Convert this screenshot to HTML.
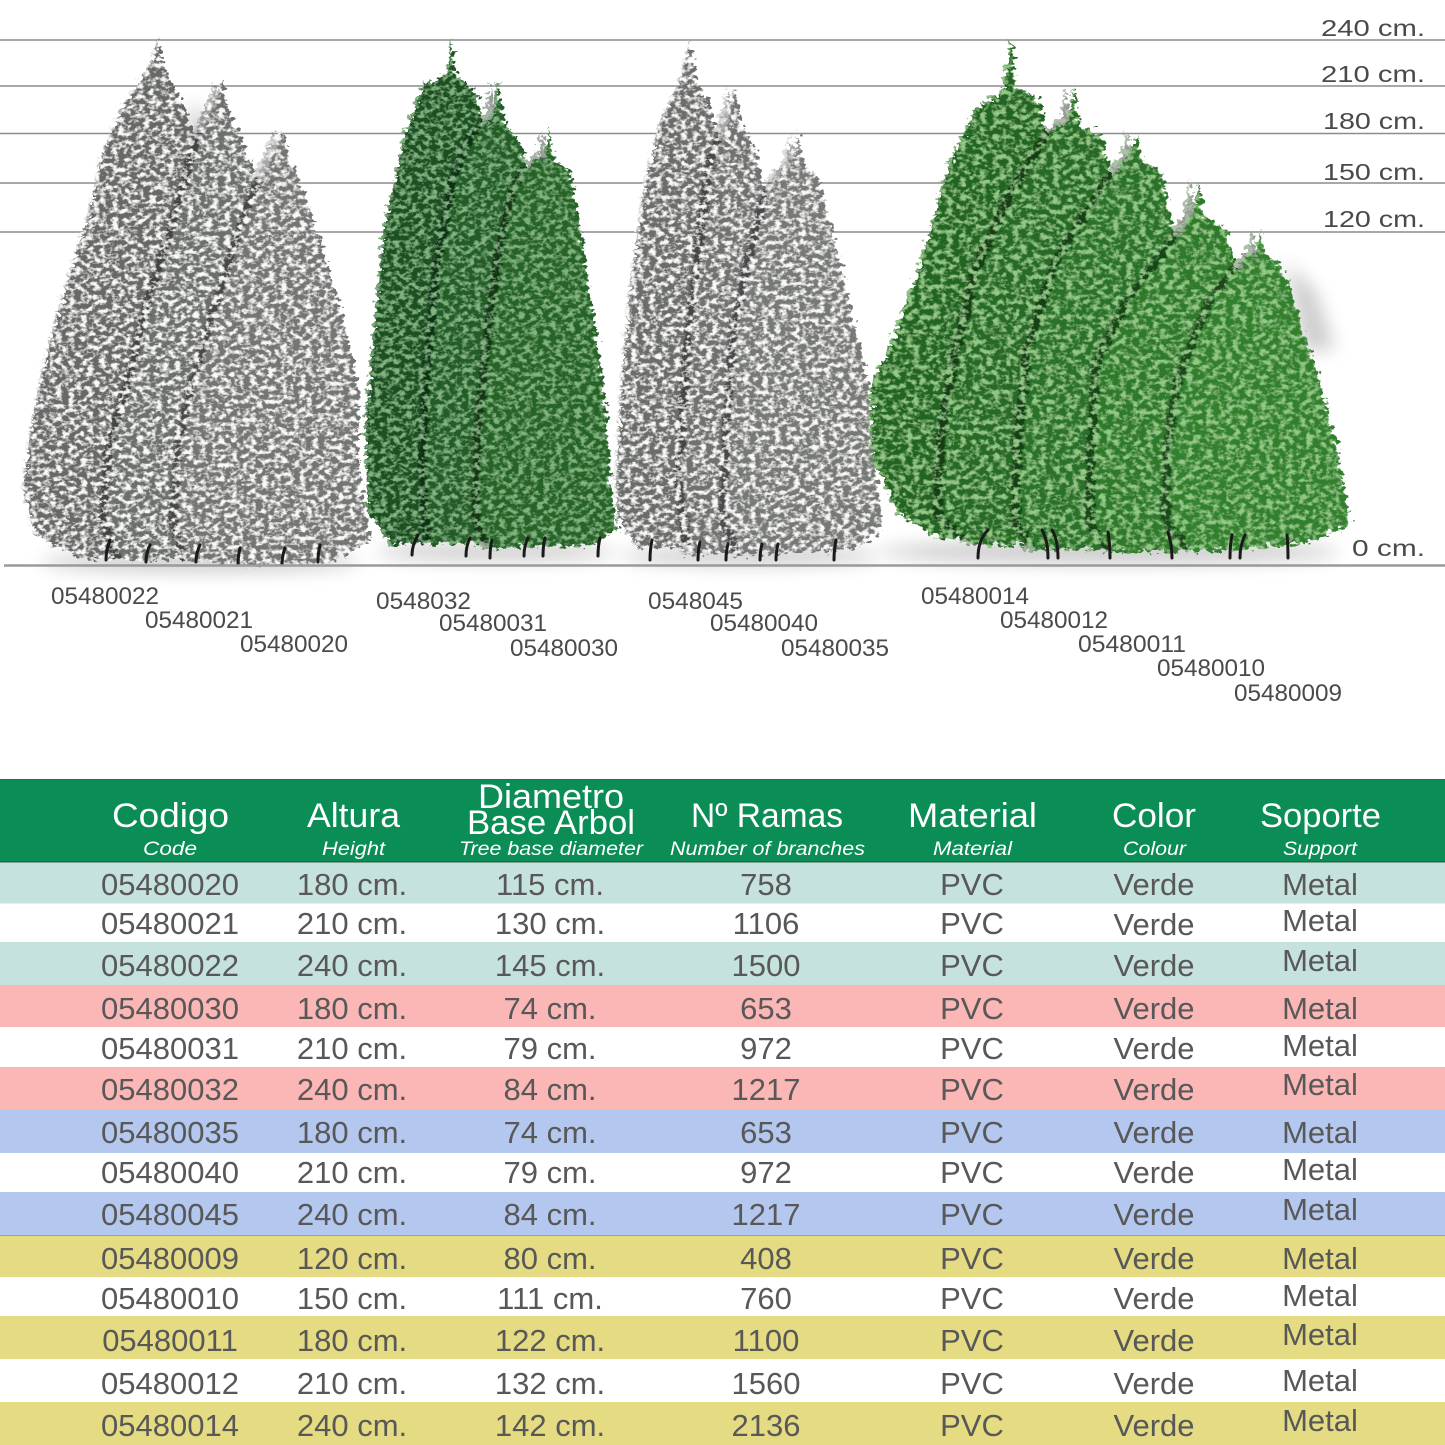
<!DOCTYPE html>
<html>
<head>
<meta charset="utf-8">
<style>
html,body{margin:0;padding:0;background:#fff;}
body{width:1445px;height:1445px;overflow:hidden;}
svg{display:block;}
.lbl{font-family:"Liberation Sans",sans-serif;fill:#4a4a4a;}
.hd{font-family:"Liberation Sans",sans-serif;fill:#ffffff;}
.hs{font-family:"Liberation Sans",sans-serif;fill:#ffffff;font-style:italic;}
.td{font-family:"Liberation Sans",sans-serif;fill:#585858;font-size:31px;text-anchor:middle;}
</style>
</head>
<body>
<svg width="1445" height="1445" viewBox="0 0 1445 1445" xmlns="http://www.w3.org/2000/svg">
<defs>
  <filter id="flock" x="-10%" y="-10%" width="120%" height="120%">
    <feTurbulence type="fractalNoise" baseFrequency="0.16 0.22" numOctaves="3" seed="4" result="noise"/>
    <feDisplacementMap in="SourceGraphic" in2="noise" scale="16" xChannelSelector="R" yChannelSelector="G" result="disp"/>
    <feColorMatrix in="noise" type="matrix" values="0 0 0 0 0.95  0 0 0 0 0.95  0 0 0 0 0.94  4 0 0 0 -1.78" result="spk"/>
    <feComposite in="spk" in2="disp" operator="in" result="spk2"/>
    <feMerge><feMergeNode in="disp"/><feMergeNode in="spk2"/></feMerge>
  </filter>
  <filter id="green1" x="-10%" y="-10%" width="120%" height="120%">
    <feTurbulence type="fractalNoise" baseFrequency="0.16 0.22" numOctaves="3" seed="9" result="noise"/>
    <feDisplacementMap in="SourceGraphic" in2="noise" scale="14" xChannelSelector="R" yChannelSelector="G" result="disp"/>
    <feColorMatrix in="noise" type="matrix" values="0 0 0 0 0.22  0 0 0 0 0.46  0 0 0 0 0.22  4 0 0 0 -1.8" result="spk"/>
    <feComposite in="spk" in2="disp" operator="in" result="spk2"/>
    <feMerge><feMergeNode in="disp"/><feMergeNode in="spk2"/></feMerge>
  </filter>
  <filter id="green2" x="-10%" y="-10%" width="120%" height="120%">
    <feTurbulence type="fractalNoise" baseFrequency="0.15 0.2" numOctaves="3" seed="13" result="noise"/>
    <feDisplacementMap in="SourceGraphic" in2="noise" scale="16" xChannelSelector="R" yChannelSelector="G" result="disp"/>
    <feColorMatrix in="noise" type="matrix" values="0 0 0 0 0.29  0 0 0 0 0.58  0 0 0 0 0.24  4 0 0 0 -1.8" result="spk"/>
    <feComposite in="spk" in2="disp" operator="in" result="spk2"/>
    <feMerge><feMergeNode in="disp"/><feMergeNode in="spk2"/></feMerge>
  </filter>
  <filter id="blur" x="-30%" y="-30%" width="160%" height="160%"><feGaussianBlur stdDeviation="9"/></filter>
</defs>

<rect x="0" y="0" width="1445" height="1445" fill="#ffffff"/>

<!-- height guide lines -->
<g stroke="#8c8c8c" stroke-width="1.6">
  <line x1="0" y1="40" x2="1445" y2="40"/>
  <line x1="0" y1="86" x2="1445" y2="86"/>
  <line x1="0" y1="133.5" x2="1445" y2="133.5"/>
  <line x1="0" y1="183" x2="1445" y2="183"/>
  <line x1="0" y1="232" x2="1445" y2="232"/>
</g>

<g class="lbl" font-size="23">
  <text x="1321" y="36" textLength="104" lengthAdjust="spacingAndGlyphs">240 cm.</text>
  <text x="1321" y="82" textLength="104" lengthAdjust="spacingAndGlyphs">210 cm.</text>
  <text x="1323" y="129" textLength="102" lengthAdjust="spacingAndGlyphs">180 cm.</text>
  <text x="1323" y="180" textLength="102" lengthAdjust="spacingAndGlyphs">150 cm.</text>
  <text x="1323" y="227" textLength="102" lengthAdjust="spacingAndGlyphs">120 cm.</text>
  <text x="1352" y="556" textLength="73" lengthAdjust="spacingAndGlyphs">0 cm.</text>
</g>

<!-- soft shadows -->
<g fill="#000" opacity="0.2" filter="url(#blur)">
  <path d="M190,100 L215,130 L215,200 L190,200 Z"/>
  <ellipse cx="200" cy="562" rx="160" ry="10"/>
  <ellipse cx="495" cy="552" rx="120" ry="9"/>
  <ellipse cx="750" cy="556" rx="130" ry="9"/>
  <ellipse cx="1110" cy="552" rx="230" ry="12"/>
  <path d="M1285,262 L1315,290 L1335,350 L1305,350 Z"/>
</g>

<!-- Group 1: flocked -->
<g filter="url(#flock)">
  <path fill="#666966" d="M158,38 L162,60 L175,90 L190,120 L200,160 L200,560 L80,558 L35,535 L22,490 L30,430 L42,370 L55,320 L70,270 L88,215 L100,160 L120,110 L140,80 L152,60 Z"/>
  <path fill="#000" opacity="0.35" transform="translate(-8,0)" d="M222,82 L228,110 L245,150 L262,195 L270,250 L280,560 L120,560 L105,520 L110,450 L130,380 L150,300 L175,220 L195,150 L210,110 Z"/>
  <path fill="#6c6f6c" d="M222,82 L228,110 L245,150 L262,195 L270,250 L280,560 L120,560 L105,520 L110,450 L130,380 L150,300 L175,220 L195,150 L210,110 Z"/>
  <path fill="#000" opacity="0.35" transform="translate(-8,0)" d="M282,130 L290,160 L305,195 L322,250 L343,316 L358,387 L357,459 L370,540 L330,562 L250,565 L185,560 L175,520 L180,440 L200,360 L225,280 L248,210 L265,170 Z"/>
  <path fill="#737673" d="M282,130 L290,160 L305,195 L322,250 L343,316 L358,387 L357,459 L370,540 L330,562 L250,565 L185,560 L175,520 L180,440 L200,360 L225,280 L248,210 L265,170 Z"/>
</g>

<!-- Group 2: dark green -->
<g filter="url(#green1)">
  <path fill="#1c5021" d="M451,38 L456,75 L478,95 L485,140 L480,540 L392,545 L367,512 L365,423 L375,316 L384,226 L404,137 L424,84 L447,75 Z"/>
  <path fill="#000" opacity="0.4" transform="translate(-8,0)" d="M498,82 L504,120 L522,148 L535,200 L540,540 L430,545 L424,470 L428,380 L440,260 L455,180 L473,134 L493,115 Z"/>
  <path fill="#215b25" d="M498,82 L504,120 L522,148 L535,200 L540,540 L430,545 L424,470 L428,380 L440,260 L455,180 L473,134 L493,115 Z"/>
  <path fill="#000" opacity="0.4" transform="translate(-8,0)" d="M549,128 L555,160 L571,173 L588,280 L604,387 L612,494 L618,530 L590,545 L490,548 L478,523 L480,430 L490,330 L502,244 L515,190 L527,166 L545,155 Z"/>
  <path fill="#256428" d="M549,128 L555,160 L571,173 L588,280 L604,387 L612,494 L618,530 L590,545 L490,548 L478,523 L480,430 L490,330 L502,244 L515,190 L527,166 L545,155 Z"/>
</g>

<!-- Group 3: flocked -->
<g filter="url(#flock)">
  <path fill="#6a6d6a" d="M690,42 L695,80 L712,110 L720,160 L720,540 L640,550 L617,520 L615,494 L620,387 L630,280 L645,180 L660,120 L678,85 Z"/>
  <path fill="#000" opacity="0.35" transform="translate(-8,0)" d="M735,88 L740,120 L755,150 L765,200 L770,550 L690,555 L680,480 L688,360 L700,250 L710,170 L725,125 Z"/>
  <path fill="#6f726f" d="M735,88 L740,120 L755,150 L765,200 L770,550 L690,555 L680,480 L688,360 L700,250 L710,170 L725,125 Z"/>
  <path fill="#000" opacity="0.35" transform="translate(-8,0)" d="M798,133 L803,165 L819,180 L844,280 L869,387 L879,494 L882,530 L850,550 L740,555 L725,520 L728,430 L735,330 L750,260 L765,200 L779,173 L792,160 Z"/>
  <path fill="#767976" d="M798,133 L803,165 L819,180 L844,280 L869,387 L879,494 L882,530 L850,550 L740,555 L725,520 L728,430 L735,330 L750,260 L765,200 L779,173 L792,160 Z"/>
</g>

<!-- Group 4: bright green -->
<g filter="url(#green2)">
  <path fill="#246524" d="M1011,38 L1016,85 L1040,101 L1050,160 L1060,540 L940,538 L899,515 L872,460 L870,387 L890,345 L920,265 L948,166 L975,110 L1003,90 Z"/>
  <path fill="#000" opacity="0.4" transform="translate(-9,0)" d="M1074,86 L1080,125 L1102,134 L1115,200 L1120,545 L975,545 L940,515 L943,440 L958,350 L978,270 L1010,200 L1048,134 L1068,120 Z"/>
  <path fill="#286b27" d="M1074,86 L1080,125 L1102,134 L1115,200 L1120,545 L975,545 L940,515 L943,440 L958,350 L978,270 L1010,200 L1048,134 L1068,120 Z"/>
  <path fill="#000" opacity="0.4" transform="translate(-9,0)" d="M1136,132 L1142,160 L1162,173 L1175,240 L1180,548 L1035,550 L1018,520 L1020,440 L1030,350 L1058,260 L1090,210 L1117,169 L1130,155 Z"/>
  <path fill="#2b722a" d="M1136,132 L1142,160 L1162,173 L1175,240 L1180,548 L1035,550 L1018,520 L1020,440 L1030,350 L1058,260 L1090,210 L1117,169 L1130,155 Z"/>
  <path fill="#000" opacity="0.4" transform="translate(-9,0)" d="M1199,182 L1204,215 L1227,230 L1240,290 L1250,550 L1110,552 L1092,520 L1094,440 L1100,360 L1130,300 L1172,244 L1192,215 Z"/>
  <path fill="#2e792c" d="M1199,182 L1204,215 L1227,230 L1240,290 L1250,550 L1110,552 L1092,520 L1094,440 L1100,360 L1130,300 L1172,244 L1192,215 Z"/>
  <path fill="#000" opacity="0.4" transform="translate(-9,0)" d="M1261,230 L1266,255 L1282,266 L1311,351 L1336,441 L1346,500 L1350,525 L1300,545 L1190,550 L1168,520 L1170,450 L1180,380 L1212,301 L1242,262 L1256,250 Z"/>
  <path fill="#32802f" d="M1261,230 L1266,255 L1282,266 L1311,351 L1336,441 L1346,500 L1350,525 L1300,545 L1190,550 L1168,520 L1170,450 L1180,380 L1212,301 L1242,262 L1256,250 Z"/>
</g>

<!-- tree stands -->
<g stroke="#1a1a1a" stroke-width="3" fill="none" stroke-linecap="round">
  <path d="M110,540 Q106,550 106,560"/><path d="M150,545 Q146,553 146,562"/><path d="M200,545 Q196,553 196,562"/><path d="M240,548 Q238,556 238,565"/><path d="M285,548 Q282,556 282,565"/><path d="M320,545 Q318,553 318,562"/>
  <path d="M418,535 Q412,545 412,555"/><path d="M470,538 Q466,546 466,556"/><path d="M492,540 Q490,548 490,558"/><path d="M528,538 Q524,546 524,556"/><path d="M545,538 Q543,546 543,556"/><path d="M600,538 Q598,546 598,556"/>
  <path d="M652,540 Q650,550 650,560"/><path d="M700,542 Q698,550 698,560"/><path d="M728,544 Q726,552 726,560"/><path d="M762,544 Q760,552 760,560"/><path d="M778,544 Q776,552 776,560"/><path d="M836,540 Q834,550 834,560"/>
  <path d="M988,530 Q978,540 978,558"/><path d="M1042,530 Q1048,540 1048,558"/><path d="M1052,530 Q1058,540 1058,558"/><path d="M1108,532 Q1110,545 1110,558"/><path d="M1168,532 Q1172,545 1172,558"/><path d="M1232,535 Q1230,545 1230,558"/><path d="M1245,535 Q1240,545 1240,558"/><path d="M1287,535 Q1288,545 1288,558"/>
</g>

<!-- baseline -->
<line x1="4" y1="565.5" x2="1445" y2="565.5" stroke="#9a9a9a" stroke-width="2.4"/>

<!-- tree code labels -->
<g class="lbl" font-size="24">
  <text x="51" y="604" textLength="108" lengthAdjust="spacingAndGlyphs">05480022</text>
  <text x="145" y="628" textLength="108" lengthAdjust="spacingAndGlyphs">05480021</text>
  <text x="240" y="652" textLength="108" lengthAdjust="spacingAndGlyphs">05480020</text>
  <text x="376" y="609" textLength="95" lengthAdjust="spacingAndGlyphs">0548032</text>
  <text x="439" y="631" textLength="108" lengthAdjust="spacingAndGlyphs">05480031</text>
  <text x="510" y="656" textLength="108" lengthAdjust="spacingAndGlyphs">05480030</text>
  <text x="648" y="609" textLength="95" lengthAdjust="spacingAndGlyphs">0548045</text>
  <text x="710" y="631" textLength="108" lengthAdjust="spacingAndGlyphs">05480040</text>
  <text x="781" y="656" textLength="108" lengthAdjust="spacingAndGlyphs">05480035</text>
  <text x="921" y="604" textLength="108" lengthAdjust="spacingAndGlyphs">05480014</text>
  <text x="1000" y="628" textLength="108" lengthAdjust="spacingAndGlyphs">05480012</text>
  <text x="1078" y="652" textLength="108" lengthAdjust="spacingAndGlyphs">05480011</text>
  <text x="1157" y="676" textLength="108" lengthAdjust="spacingAndGlyphs">05480010</text>
  <text x="1234" y="701" textLength="108" lengthAdjust="spacingAndGlyphs">05480009</text>
</g>

<!-- TABLE -->
<rect x="0" y="779" width="1445" height="83" fill="#0b8d56"/>
<line x1="0" y1="779.5" x2="1445" y2="779.5" stroke="#2f6b4b" stroke-width="1"/>
<line x1="0" y1="862" x2="1445" y2="862" stroke="#2c5e45" stroke-width="1.5"/>

<rect x="0" y="862.5" width="1445" height="41" fill="#c6e2df"/>
<rect x="0" y="942" width="1445" height="43" fill="#c6e2df"/>
<rect x="0" y="985" width="1445" height="42" fill="#fbb7b6"/>
<rect x="0" y="1067" width="1445" height="42" fill="#fbb7b6"/>
<rect x="0" y="1109" width="1445" height="44" fill="#b4c8ef"/>
<rect x="0" y="1192" width="1445" height="43" fill="#b4c8ef"/>
<rect x="0" y="1235" width="1445" height="42" fill="#e5db82"/>
<rect x="0" y="1316" width="1445" height="43" fill="#e5db82"/>
<rect x="0" y="1402" width="1445" height="43" fill="#e5db82"/>
<line x1="0" y1="1235.5" x2="1445" y2="1235.5" stroke="#9aa39a" stroke-width="1"/>

<!-- header text -->
<g class="hd" font-size="34">
  <text x="112" y="827" textLength="117" lengthAdjust="spacingAndGlyphs">Codigo</text>
  <text x="307" y="827" textLength="93" lengthAdjust="spacingAndGlyphs">Altura</text>
  <text x="478" y="808" textLength="146" lengthAdjust="spacingAndGlyphs">Diametro</text>
  <text x="467" y="834" textLength="168" lengthAdjust="spacingAndGlyphs">Base Arbol</text>
  <text x="691" y="827" textLength="152" lengthAdjust="spacingAndGlyphs">Nº Ramas</text>
  <text x="908" y="827" textLength="129" lengthAdjust="spacingAndGlyphs">Material</text>
  <text x="1112" y="827" textLength="84" lengthAdjust="spacingAndGlyphs">Color</text>
  <text x="1260" y="827" textLength="121" lengthAdjust="spacingAndGlyphs">Soporte</text>
</g>
<g class="hs" font-size="19">
  <text x="143" y="855" textLength="54" lengthAdjust="spacingAndGlyphs">Code</text>
  <text x="322" y="855" textLength="63" lengthAdjust="spacingAndGlyphs">Height</text>
  <text x="459" y="855" textLength="184" lengthAdjust="spacingAndGlyphs">Tree base diameter</text>
  <text x="670" y="855" textLength="195" lengthAdjust="spacingAndGlyphs">Number of branches</text>
  <text x="933" y="855" textLength="79" lengthAdjust="spacingAndGlyphs">Material</text>
  <text x="1123" y="855" textLength="63" lengthAdjust="spacingAndGlyphs">Colour</text>
  <text x="1283" y="855" textLength="74" lengthAdjust="spacingAndGlyphs">Support</text>
</g>

<!-- rows -->
<g class="td">
  <text x="170" y="895">05480020</text><text x="352" y="895">180 cm.</text><text x="550" y="895">115 cm.</text><text x="766" y="895">758</text><text x="972" y="895">PVC</text><text x="1154" y="895">Verde</text><text x="1320" y="895">Metal</text>
  <text x="170" y="934">05480021</text><text x="352" y="934">210 cm.</text><text x="550" y="934">130 cm.</text><text x="766" y="934">1106</text><text x="972" y="934">PVC</text><text x="1154" y="935">Verde</text><text x="1320" y="931">Metal</text>
  <text x="170" y="976">05480022</text><text x="352" y="976">240 cm.</text><text x="550" y="976">145 cm.</text><text x="766" y="976">1500</text><text x="972" y="976">PVC</text><text x="1154" y="976">Verde</text><text x="1320" y="971">Metal</text>
  <text x="170" y="1019">05480030</text><text x="352" y="1019">180 cm.</text><text x="550" y="1019">74 cm.</text><text x="766" y="1019">653</text><text x="972" y="1019">PVC</text><text x="1154" y="1019">Verde</text><text x="1320" y="1019">Metal</text>
  <text x="170" y="1059">05480031</text><text x="352" y="1059">210 cm.</text><text x="550" y="1059">79 cm.</text><text x="766" y="1059">972</text><text x="972" y="1059">PVC</text><text x="1154" y="1059">Verde</text><text x="1320" y="1056">Metal</text>
  <text x="170" y="1100">05480032</text><text x="352" y="1100">240 cm.</text><text x="550" y="1100">84 cm.</text><text x="766" y="1100">1217</text><text x="972" y="1100">PVC</text><text x="1154" y="1100">Verde</text><text x="1320" y="1095">Metal</text>
  <text x="170" y="1143">05480035</text><text x="352" y="1143">180 cm.</text><text x="550" y="1143">74 cm.</text><text x="766" y="1143">653</text><text x="972" y="1143">PVC</text><text x="1154" y="1143">Verde</text><text x="1320" y="1143">Metal</text>
  <text x="170" y="1183">05480040</text><text x="352" y="1183">210 cm.</text><text x="550" y="1183">79 cm.</text><text x="766" y="1183">972</text><text x="972" y="1183">PVC</text><text x="1154" y="1183">Verde</text><text x="1320" y="1180">Metal</text>
  <text x="170" y="1225">05480045</text><text x="352" y="1225">240 cm.</text><text x="550" y="1225">84 cm.</text><text x="766" y="1225">1217</text><text x="972" y="1225">PVC</text><text x="1154" y="1225">Verde</text><text x="1320" y="1220">Metal</text>
  <text x="170" y="1269">05480009</text><text x="352" y="1269">120 cm.</text><text x="550" y="1269">80 cm.</text><text x="766" y="1269">408</text><text x="972" y="1269">PVC</text><text x="1154" y="1269">Verde</text><text x="1320" y="1269">Metal</text>
  <text x="170" y="1309">05480010</text><text x="352" y="1309">150 cm.</text><text x="550" y="1309">111 cm.</text><text x="766" y="1309">760</text><text x="972" y="1309">PVC</text><text x="1154" y="1309">Verde</text><text x="1320" y="1306">Metal</text>
  <text x="170" y="1351">05480011</text><text x="352" y="1351">180 cm.</text><text x="550" y="1351">122 cm.</text><text x="766" y="1351">1100</text><text x="972" y="1351">PVC</text><text x="1154" y="1351">Verde</text><text x="1320" y="1345">Metal</text>
  <text x="170" y="1394">05480012</text><text x="352" y="1394">210 cm.</text><text x="550" y="1394">132 cm.</text><text x="766" y="1394">1560</text><text x="972" y="1394">PVC</text><text x="1154" y="1394">Verde</text><text x="1320" y="1391">Metal</text>
  <text x="170" y="1436">05480014</text><text x="352" y="1436">240 cm.</text><text x="550" y="1436">142 cm.</text><text x="766" y="1436">2136</text><text x="972" y="1436">PVC</text><text x="1154" y="1436">Verde</text><text x="1320" y="1431">Metal</text>
</g>
</svg>
</body>
</html>
